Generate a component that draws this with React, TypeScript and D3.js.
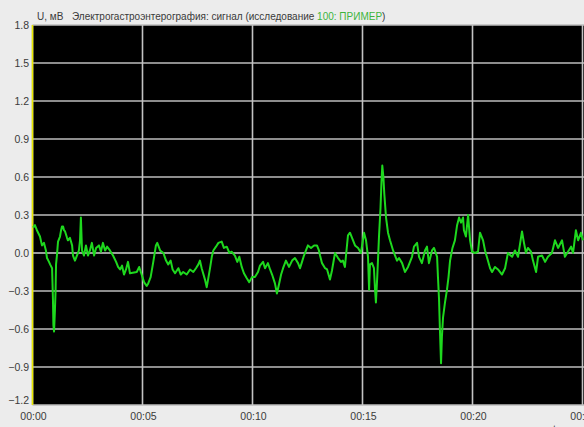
import React, { useEffect } from "react";
import * as d3 from "d3";

// Signal: time (minutes) and amplitude (mV)
const times = [
  0.02, 0.11, 0.2, 0.34, 0.43, 0.52, 0.61, 0.66, 0.75, 0.8, 0.89, 0.93, 0.95, 0.98, 1.02, 1.05, 1.07, 1.11, 1.16, 1.25,
  1.3, 1.34, 1.39, 1.43, 1.48, 1.57, 1.61, 1.7, 1.8, 1.84, 1.93, 2.02, 2.11, 2.16, 2.2, 2.25, 2.34, 2.43, 2.52, 2.61,
  2.7, 2.8, 2.89, 3.02, 3.11, 3.2, 3.3, 3.39, 3.52, 3.66, 3.8, 3.89, 3.98, 4.07, 4.16, 4.25, 4.34, 4.43,
  4.74, 4.85, 4.96, 5.07, 5.19, 5.26, 5.37, 5.49, 5.61, 5.67, 5.8, 5.95, 6.07, 6.17, 6.28, 6.37, 6.48, 6.63, 6.74, 6.85,
  7.01, 7.16, 7.31, 7.43, 7.54, 7.61, 7.69, 7.84, 7.92, 7.99, 8.07, 8.15, 8.22, 8.34, 8.45, 8.6, 8.7, 8.83, 8.95, 9.05,
  9.2, 9.31, 9.4, 9.51, 9.61, 9.74, 9.85,
  9.98, 10.11, 10.25, 10.34, 10.48, 10.57, 10.7, 10.8, 10.89, 11.02, 11.11, 11.2, 11.3, 11.39, 11.52, 11.66, 11.8, 11.93,
  12.07, 12.16, 12.25, 12.34, 12.43, 12.52, 12.66, 12.8, 12.93, 13.02, 13.07, 13.16, 13.3, 13.39, 13.52, 13.61, 13.75,
  13.89, 14.02, 14.11, 14.2, 14.34, 14.43, 14.57, 14.66, 14.8, 14.93,
  15.07, 15.16, 15.25, 15.3, 15.34, 15.43, 15.52, 15.57, 15.61, 15.67, 15.75, 15.82, 15.86, 15.9, 15.95, 15.99, 16.07,
  16.16, 16.25, 16.39, 16.48, 16.57, 16.66, 16.8, 16.93, 17.07, 17.25, 17.34, 17.48, 17.57, 17.7, 17.84, 17.93, 18.02,
  18.16, 18.25, 18.39, 18.43, 18.48, 18.52, 18.57, 18.61, 18.66, 18.75, 18.84, 18.91, 18.98, 19.09, 19.2, 19.3, 19.39,
  19.48, 19.57, 19.61, 19.7, 19.8, 19.89, 19.98, 20.11, 20.25, 20.34, 20.48, 20.57, 20.7, 20.8, 20.89, 21.02, 21.16,
  21.34, 21.48, 21.61, 21.8, 21.93, 22.07, 22.25, 22.34, 22.43, 22.52, 22.66, 22.75, 22.89, 22.98, 23.16, 23.3, 23.43,
  23.61, 23.75, 23.89, 24.07, 24.2, 24.34, 24.48, 24.57, 24.7, 24.8, 24.93, 25.02,
];

const values = [
  0.2, 0.22, 0.18, 0.13, 0.06, 0.08, 0.02, -0.04, -0.07, -0.09, -0.12, -0.37, -0.57, -0.62, -0.45, -0.29, -0.09, -0.02, 0.09, 0.13,
  0.18, 0.21, 0.21, 0.18, 0.17, 0.12, 0.1, 0.12, 0.06, -0.02, -0.06, -0.02, 0.02, 0.1, 0.28, 0.02, -0.02, 0.06, -0.02, 0.02,
  0.08, -0.02, 0.04, 0.06, 0.01, 0.08, 0.02, 0.05, 0.02, -0.02, -0.07, -0.11, -0.13, -0.1, -0.17, -0.13, -0.07, -0.16,
  -0.15, -0.11, -0.17, -0.23, -0.26, -0.24, -0.19, -0.07, 0.06, 0.08, 0.02, 0.0, -0.06, -0.09, -0.06, -0.13, -0.16, -0.12, -0.17, -0.15,
  -0.17, -0.13, -0.15, -0.12, -0.09, -0.06, -0.12, -0.21, -0.27, -0.2, -0.12, -0.03, 0.02, 0.05, 0.08, 0.09, 0.04, 0.05, 0.0, 0.01,
  -0.02, -0.07, -0.03, -0.11, -0.16, -0.2, -0.23,
  -0.19, -0.19, -0.15, -0.1, -0.07, -0.12, -0.08, -0.13, -0.17, -0.24, -0.32, -0.25, -0.17, -0.12, -0.06, -0.11, -0.06, -0.04,
  -0.08, -0.12, -0.07, -0.02, 0.02, 0.06, 0.04, 0.06, 0.06, 0.02, -0.02, -0.08, -0.12, -0.13, -0.21, -0.14, 0.0,
  -0.04, -0.07, -0.06, -0.11, 0.14, 0.16, 0.1, 0.06, 0.04, 0.0,
  0.16, 0.1, -0.03, -0.29, -0.09, -0.08, -0.12, -0.29, -0.39, -0.19, 0.13, 0.36, 0.55, 0.69, 0.6, 0.47, 0.28,
  0.16, 0.1, 0.02, -0.02, -0.06, -0.04, -0.08, -0.15, -0.11, -0.03, 0.05, 0.08, -0.03, -0.08, 0.02, 0.05, -0.08,
  0.02, 0.04, -0.03, -0.19, -0.37, -0.61, -0.87, -0.66, -0.51, -0.39, -0.29, -0.19, -0.06, 0.04, 0.1, 0.22, 0.28,
  0.24, 0.28, 0.18, 0.13, 0.3, 0.1, 0.01, 0.0, 0.01, 0.16, 0.1, 0.02, -0.06, -0.12, -0.15, -0.11, -0.13,
  -0.17, -0.12, 0.0, -0.03, 0.02, -0.03, 0.17, 0.08, 0.0, 0.04, 0.01, -0.06, -0.15, -0.03, -0.02, -0.07, -0.03,
  0.0, 0.1, 0.04, 0.1, -0.03, 0.01, 0.05, 0.0, 0.18, 0.1, 0.16, 0.1,
];

const yTicks = [1.8, 1.5, 1.2, 0.9, 0.6, 0.3, 0.0, -0.3, -0.6, -0.9, -1.2];
const xTicks = [0, 5, 10, 15, 20, 25];
const xTickLabels = ["00:00", "00:05", "00:10", "00:15", "00:20", "00:25"];

const W = 584;
const H = 427;
const FONT = "'Liberation Sans', Arial, sans-serif";

export default function App() {
  useEffect(() => {
    document.body.style.margin = "0";
    document.body.style.background = "#ececec";
  }, []);

  const x = d3.scaleLinear().domain([0, 25]).range([32.5, 582.5]);
  const y = d3.scaleLinear().domain([-1.2, 1.8]).range([405, 25]);
  const fmt = d3.format(".1f");

  const pts: [number, number][] = times.map((t, i) => [t, values[i]]);
  const line = d3
    .line<[number, number]>()
    .x((d) => x(d[0]))
    .y((d) => y(d[1]));

  const top = y(1.8);
  const bottom = y(-1.2);
  const left = x(0);

  return (
    <div style={{ position: "fixed", left: 0, top: 0 }}>
      <svg width={W} height={H} style={{ display: "block", background: "#ececec" }}>
        <rect x={left} y={top} width={W - left} height={bottom - top} fill="#000" />
        {/* horizontal grid */}
        {yTicks.map((v) =>
          v === 0 ? (
            <g key={v}>
              <line x1={left} x2={W} y1={y(v)} y2={y(v)} stroke="#8a8a8a" strokeWidth={2} />
              <line x1={left} x2={W} y1={y(v)} y2={y(v)} stroke="#d0d0d0" strokeWidth={1} strokeDasharray="1,1" />
            </g>
          ) : (
            <line key={v} x1={left} x2={W} y1={y(v)} y2={y(v)} stroke="#bcbcbc" strokeWidth={1.6} />
          )
        )}
        {/* vertical grid */}
        {xTicks.map((t) => (
          <line key={t} x1={x(t)} x2={x(t)} y1={top} y2={bottom} stroke="#c4c4c4" strokeWidth={1.6} />
        ))}
        {/* left axis */}
        <line x1={left} x2={left} y1={top} y2={bottom} stroke="#e8e800" strokeWidth={1.6} />
        {/* signal */}
        <path d={line(pts) || ""} fill="none" stroke="#1ed81e" strokeWidth={2} strokeLinejoin="round" />

        {/* y labels */}
        {yTicks.map((v, i) => (
          <text
            key={v}
            x={29}
            y={y(v) + (i === yTicks.length - 1 ? -1 : 4)}
            textAnchor="end"
            fontFamily={FONT}
            fontSize={10.5}
            fill="#3a3a3a"
          >
            {fmt(v)}
          </text>
        ))}
        {/* x labels */}
        {xTicks.map((t, i) => (
          <text
            key={t}
            x={x(t) + 1}
            y={420}
            textAnchor="middle"
            fontFamily={FONT}
            fontSize={10.5}
            fill="#3a3a3a"
          >
            {xTickLabels[i]}
          </text>
        ))}
        <text x={553} y={433} fontFamily={FONT} fontSize={10.5} fill="#3a3a3a">
          t, мин
        </text>
        {/* title */}
        <text x={37} y={20} fontFamily={FONT} fontSize={10} fill="#3a3a3a">
          <tspan>U, мВ</tspan>
          <tspan x={72}>Электрогастроэнтерография: сигнал (исследование </tspan>
          <tspan fill="#3cb43c">100: ПРИМЕР</tspan>
          <tspan>)</tspan>
        </text>
      </svg>
    </div>
  );
}
